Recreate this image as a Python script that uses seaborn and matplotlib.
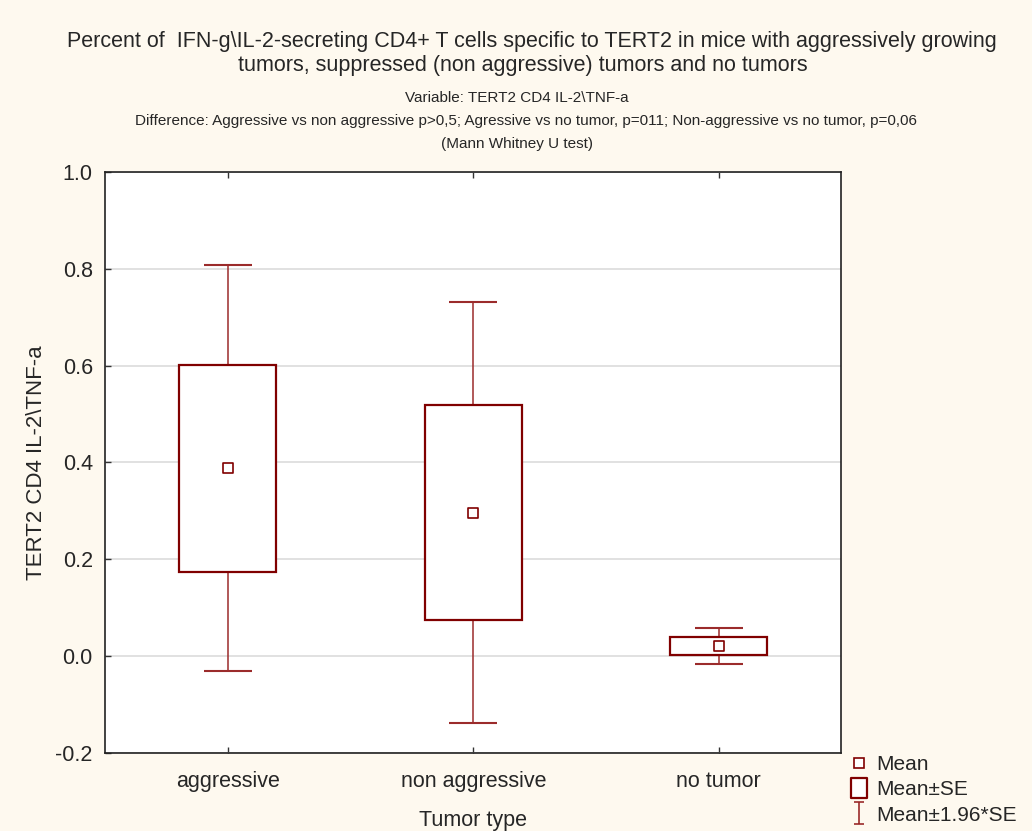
import numpy as np
import pandas as pd
import matplotlib
matplotlib.use("Agg")
import matplotlib.pyplot as plt
from matplotlib.path import Path
from matplotlib.lines import Line2D
import seaborn as sns

# ---- data ----
categories = ["aggressive", "non aggressive", "no tumor"]
means = [0.388, 0.296, 0.020]
se = [0.214, 0.222, 0.019]
yticks = [-0.2, 0.0, 0.2, 0.4, 0.6, 0.8, 1.0]

title_lines = [
    "Percent of  IFN-g\\IL-2-secreting CD4+ T cells specific to TERT2 in mice with aggressively growing",
    "tumors, suppressed (non aggressive) tumors and no tumors",
]
sub_lines = [
    "Variable: TERT2 CD4 IL-2\\TNF-a",
    "Difference: Aggressive vs non aggressive p>0,5; Agressive vs no tumor, p=011; Non-aggressive vs no tumor, p=0,06",
    "(Mann Whitney U test)",
]

df = pd.DataFrame({"group": categories, "mean": means, "se": se})
df["x"] = np.arange(len(df))
df["lo_se"] = df["mean"] - df["se"]

sns.set_style("white")
plt.rcParams["font.family"] = ["Liberation Sans", "DejaVu Sans"]

RED = "#800000"
WRED = "#9b2b2b"
BG = "#fef9ef"

fig = plt.figure(figsize=(10.32, 8.31), dpi=100, facecolor=BG)
ax = fig.add_axes([0.1020, 0.0942, 0.8152 - 0.1020, 0.7927 - 0.0942])
ax.set_facecolor("white")

# whiskers (mean +/- 1.96*SE)
ax.errorbar(df["x"], df["mean"], yerr=1.96 * df["se"], fmt="none",
            ecolor=WRED, elinewidth=1.1, capsize=17.6, capthick=1.5, zorder=2)
# boxes (mean +/- SE)
ax.bar(df["x"], 2 * df["se"], bottom=df["lo_se"], width=0.395,
       color="white", edgecolor=RED, linewidth=1.6, zorder=3)
# means
sns.scatterplot(data=df, x="x", y="mean", marker="s", s=42,
                facecolor="white", edgecolor=RED, linewidth=1.2,
                ax=ax, zorder=4, legend=False)

ax.set_xlim(-0.5, 2.5)
ax.set_ylim(-0.2, 1.0)
ax.set_yticks(yticks)
ax.set_yticklabels([f"{v:.1f}" for v in yticks])
ax.set_xticks(df["x"])
ax.set_xticklabels(categories)
ax.yaxis.grid(True, color="#dcdcdc", linewidth=1.2, zorder=0)
ax.set_axisbelow(True)
ax.tick_params(axis="both", direction="in", length=4, width=1, color="#333333",
               labelsize=15.5, top=True, bottom=True, left=True, right=False)
ax.tick_params(axis="y", pad=9)
ax.tick_params(axis="x", pad=13)
for sp in ax.spines.values():
    sp.set_visible(True)
    sp.set_color("#222222")
    sp.set_linewidth(1.2)
ax.set_xlabel("Tumor type", fontsize=15.5, labelpad=13)
ax.set_ylabel("TERT2 CD4 IL-2\\TNF-a", fontsize=16, labelpad=6)

# titles
fig.text(0.515, 1 - 42 / 831, title_lines[0], ha="center", va="center", fontsize=15.5)
fig.text(0.507, 1 - 66 / 831, title_lines[1], ha="center", va="center", fontsize=15.5)
fig.text(0.501, 1 - 98 / 831, sub_lines[0], ha="center", va="center", fontsize=11)
fig.text(0.510, 1 - 121 / 831, sub_lines[1], ha="center", va="center", fontsize=11)
fig.text(0.501, 1 - 144 / 831, sub_lines[2], ha="center", va="center", fontsize=11)

# legend
ibeam = Path([(-0.45, -1), (0.45, -1), (0, -1), (0, 1), (-0.45, 1), (0.45, 1)],
             [Path.MOVETO, Path.LINETO, Path.MOVETO, Path.LINETO, Path.MOVETO, Path.LINETO])
rect = Path([(-0.4, -0.5), (0.4, -0.5), (0.4, 0.5), (-0.4, 0.5), (-0.4, -0.5)],
            [Path.MOVETO, Path.LINETO, Path.LINETO, Path.LINETO, Path.CLOSEPOLY])
handles = [
    Line2D([], [], marker="s", linestyle="None", markersize=6.5,
           markerfacecolor="white", markeredgecolor=RED, markeredgewidth=1.2),
    Line2D([], [], marker=rect, linestyle="None", markersize=14,
           markerfacecolor="white", markeredgecolor=RED, markeredgewidth=1.6),
    Line2D([], [], marker=ibeam, linestyle="None", markersize=16,
           markerfacecolor="none", markeredgecolor=WRED, markeredgewidth=1.2),
]
fig.legend(handles, ["Mean", "Mean\u00b1SE", "Mean\u00b11.96*SE"],
           loc="lower left", bbox_to_anchor=(0.810, -0.010), frameon=False,
           fontsize=15, handlelength=0.8, handletextpad=0.45, labelspacing=0.3,
           borderpad=0.2)

fig.savefig("out.png", dpi=100, facecolor=BG)
